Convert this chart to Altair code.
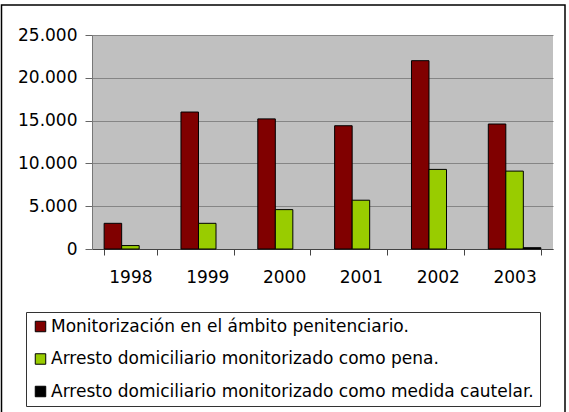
import altair as alt
import pandas as pd

years = ["1998", "1999", "2000", "2001", "2002", "2003"]
series = [
    "Monitorización en el ámbito penitenciario.",
    "Arresto domiciliario monitorizado como pena.",
    "Arresto domiciliario monitorizado como medida cautelar.",
]
penitenciario = [3000, 16000, 15200, 14400, 22000, 14600]
pena = [400, 3000, 4600, 5700, 9300, 9100]
cautelar = [0, 0, 0, 0, 0, 150]
colors = ["#800000", "#99cc00", "#000000"]
y_ticks = [0, 5000, 10000, 15000, 20000, 25000]

rows = []
for i, yr in enumerate(years):
    for s, vals in zip(series, [penitenciario, pena, cautelar]):
        rows.append({"year": yr, "serie": s, "value": vals[i]})
df = pd.DataFrame(rows)

FONT = "DejaVu Sans"
FS = 17

bars = alt.Chart(df).transform_filter("datum.value > 0").mark_bar(
    stroke="black", strokeWidth=1
).encode(
    x=alt.X(
        "year:N",
        sort=years,
        scale=alt.Scale(domain=years, paddingInner=0.316, paddingOuter=0.158),
        axis=alt.Axis(
            title=None, labelAngle=0, tickBand="extent", tickSize=6,
            labelPadding=14, domainColor="#444444", tickColor="#444444",
        ),
    ),
    xOffset=alt.XOffset(
        "serie:N", sort=series,
        scale=alt.Scale(domain=series, paddingInner=0, paddingOuter=0),
    ),
    y=alt.Y(
        "value:Q",
        scale=alt.Scale(domain=[0, 25000], nice=False),
        axis=alt.Axis(
            title=None, values=y_ticks, grid=True, gridColor="#858585",
            tickSize=7, labelPadding=8, domainColor="#777777", tickColor="#666666",
            labelExpr="replace(format(datum.value, ','), ',', '.')",
        ),
    ),
    color=alt.Color(
        "serie:N", sort=series,
        scale=alt.Scale(domain=series, range=colors),
        legend=alt.Legend(
            title=None, orient="none", legendX=-66, legendY=277,
            direction="vertical", strokeColor="#333333", padding=6,
            rowPadding=14.5, symbolType="square", symbolSize=110,
            symbolStrokeColor="black", symbolStrokeWidth=1,
            labelFont=FONT, labelFontSize=FS, labelOffset=2, labelLimit=1000,
            labelColor="black", cornerRadius=0,
        ),
    ),
)

frame = alt.Chart(pd.DataFrame({"a": [0]})).mark_rect(
    fillOpacity=0, stroke="black", strokeWidth=1.5
).encode(
    x=alt.value(-90.5), x2=alt.value(473), y=alt.value(-30), y2=alt.value(390)
)

chart = alt.layer(bars, frame).properties(
    width=461, height=214,
    autosize=alt.AutoSizeParams(type="none"),
    padding={"left": 92, "right": 16, "top": 35, "bottom": 163},
    background="white",
).configure_view(
    fill="#c0c0c0", strokeWidth=0
).configure_axis(
    labelFont=FONT, labelFontSize=FS, labelColor="black"
)

chart.save("out.html", embed_options={"renderer": "svg", "actions": False})
